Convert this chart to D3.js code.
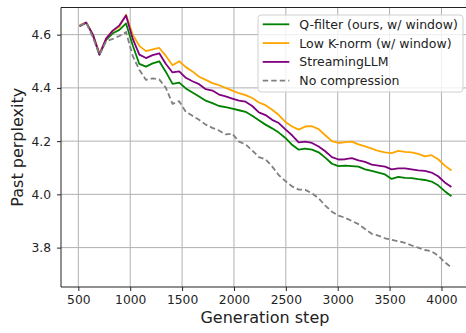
<!DOCTYPE html>
<html>
<head>
<meta charset="utf-8">
<script src="https://cdn.jsdelivr.net/npm/d3@7"></script>
<style>
  body { margin: 0; background: #fff; }
  text { font-family: "DejaVu Sans", sans-serif; fill: #222; }
</style>
</head>
<body>
<div id="chart"></div>
<script>
// generation steps (every 64 tokens)
var steps = [512,576,640,704,768,832,896,960,1024,1088,1152,1216,1280,1344,1408,1472,1536,1600,1664,1728,
  1792,1856,1920,1984,2048,2112,2176,2240,2304,2368,2432,2496,2560,2624,2688,2752,2816,2880,2944,3008,
  3072,3136,3200,3264,3328,3392,3456,3520,3584,3648,3712,3776,3840,3904,3968,4032,4096];

var qfilter = [4.632,4.645,4.600,4.525,4.580,4.605,4.618,4.642,4.560,4.490,4.480,4.492,4.500,4.460,4.415,4.420,4.398,4.383,4.368,4.352,
  4.343,4.332,4.328,4.322,4.316,4.310,4.295,4.278,4.262,4.248,4.232,4.212,4.186,4.168,4.172,4.168,4.158,4.138,4.115,4.106,
  4.108,4.106,4.104,4.094,4.088,4.082,4.075,4.058,4.066,4.062,4.061,4.057,4.054,4.048,4.034,4.012,3.993];

var knorm = [4.636,4.645,4.600,4.530,4.585,4.615,4.630,4.675,4.600,4.558,4.538,4.545,4.550,4.520,4.485,4.500,4.478,4.462,4.442,4.430,
  4.418,4.410,4.400,4.390,4.380,4.373,4.362,4.345,4.335,4.318,4.298,4.272,4.255,4.243,4.255,4.256,4.245,4.222,4.200,4.193,
  4.196,4.198,4.188,4.180,4.172,4.163,4.158,4.155,4.163,4.160,4.158,4.152,4.143,4.147,4.132,4.108,4.090];

var streaming = [4.632,4.645,4.600,4.525,4.585,4.615,4.635,4.672,4.585,4.525,4.512,4.523,4.530,4.490,4.458,4.462,4.438,4.425,4.414,4.395,
  4.390,4.375,4.368,4.360,4.352,4.348,4.332,4.308,4.298,4.280,4.268,4.244,4.222,4.195,4.198,4.193,4.180,4.162,4.140,4.131,
  4.132,4.136,4.128,4.122,4.112,4.108,4.104,4.094,4.098,4.098,4.094,4.090,4.088,4.082,4.068,4.045,4.028];

var nocomp = [4.633,4.645,4.590,4.525,4.575,4.584,4.595,4.610,4.520,4.468,4.430,4.436,4.432,4.400,4.340,4.350,4.310,4.295,4.280,4.262,
  4.250,4.240,4.225,4.228,4.198,4.188,4.165,4.140,4.132,4.105,4.072,4.050,4.030,4.018,4.017,4.004,3.985,3.958,3.935,3.920,
  3.912,3.900,3.888,3.870,3.852,3.845,3.835,3.829,3.824,3.818,3.808,3.800,3.791,3.786,3.770,3.745,3.725];

var seriesNames = ["Q-filter (ours, w/ window)", "Low K-norm (w/ window)", "StreamingLLM", "No compression"];
var seriesColors = ["green", "orange", "purple", "gray"];
var seriesData = [qfilter, knorm, streaming, nocomp];

var xTicks = [500,1000,1500,2000,2500,3000,3500,4000];
var yTicks = [3.8,4.0,4.2,4.4,4.6];

var W = 466, H = 333;
var plot = {left: 61, top: 7.5, right: 470, bottom: 287};

var svg = d3.select("#chart")
    .append("svg")
    .attr("width", W)
    .attr("height", H);

var x = d3.scaleLinear()
    .domain([333, 4275])
    .range([plot.left, plot.right]);

var y = d3.scaleLinear()
    .domain([3.652, 4.702])
    .range([plot.bottom, plot.top]);

// grid lines
svg.append("g")
    .selectAll("line.vgrid")
    .data(xTicks)
    .enter()
    .append("line")
    .attr("x1", function(d){ return x(d) })
    .attr("x2", function(d){ return x(d) })
    .attr("y1", plot.top)
    .attr("y2", plot.bottom)
    .style("stroke", "#b0b0b0")
    .style("stroke-width", 1);

svg.append("g")
    .selectAll("line.hgrid")
    .data(yTicks)
    .enter()
    .append("line")
    .attr("x1", plot.left)
    .attr("x2", plot.right)
    .attr("y1", function(d){ return y(d) })
    .attr("y2", function(d){ return y(d) })
    .style("stroke", "#b0b0b0")
    .style("stroke-width", 1);

// axes
var xAxis = svg.append("g")
    .attr("transform", "translate(0," + plot.bottom + ")")
    .call(d3.axisBottom(x).tickValues(xTicks).tickSize(4).tickPadding(4).tickFormat(d3.format("d")));

var yAxis = svg.append("g")
    .attr("transform", "translate(" + plot.left + ",0)")
    .call(d3.axisLeft(y).tickValues(yTicks).tickSize(4).tickPadding(6).tickFormat(d3.format(".1f")));

[xAxis, yAxis].forEach(function(a){
    a.select(".domain").remove();
    a.selectAll(".tick line").style("stroke", "#222").style("stroke-width", 1);
    a.selectAll(".tick text").style("font-size", "12.3px").style("fill", "#222").style("font-family", "DejaVu Sans");
});

// spines (right one falls outside the picture)
svg.append("line").attr("x1", plot.left).attr("x2", plot.left).attr("y1", plot.top).attr("y2", plot.bottom)
    .style("stroke", "#222").style("stroke-width", 1);
svg.append("line").attr("x1", plot.left).attr("x2", plot.right).attr("y1", plot.bottom).attr("y2", plot.bottom)
    .style("stroke", "#222").style("stroke-width", 1);
svg.append("line").attr("x1", plot.left).attr("x2", plot.right).attr("y1", plot.top).attr("y2", plot.top)
    .style("stroke", "#222").style("stroke-width", 1);

// the lines
var line = d3.line()
    .x(function(d, i){ return x(steps[i]) })
    .y(function(d){ return y(d) });

for (s = 0; s < seriesData.length; s++){
    svg.append("path")
        .datum(seriesData[s])
        .attr("d", line)
        .style("fill", "none")
        .style("stroke", seriesColors[s])
        .style("stroke-width", 1.8)
        .style("stroke-linejoin", "round")
        .style("stroke-dasharray", s == 3 ? "5.5,3" : null);
}

// axis labels
svg.append("text")
    .attr("x", (plot.left + 441.5 + 78.3 - plot.left) / 2 + 5)
    .attr("y", 323)
    .attr("text-anchor", "middle")
    .style("font-size", "16px")
    .text("Generation step");

svg.append("text")
    .attr("transform", "translate(23," + ((plot.top + plot.bottom) / 2) + ") rotate(-90)")
    .attr("text-anchor", "middle")
    .style("font-size", "16px")
    .text("Past perplexity");

// legend
var legend = svg.append("g").attr("transform", "translate(258,15)");
legend.append("rect")
    .attr("width", 205)
    .attr("height", 77)
    .attr("rx", 3)
    .style("fill", "white")
    .style("fill-opacity", 0.8)
    .style("stroke", "#d0d0d0")
    .style("stroke-width", 1);

for (s = 0; s < seriesNames.length; s++){
    var ly = 9.3 + s * 18.8;
    legend.append("line")
        .attr("x1", 4.7).attr("x2", 31.3)
        .attr("y1", ly).attr("y2", ly)
        .style("stroke", seriesColors[s])
        .style("stroke-width", 1.8)
        .style("stroke-dasharray", s == 3 ? "5.5,3" : null);
    legend.append("text")
        .attr("x", 41.3)
        .attr("y", ly + 4.5)
        .style("font-size", "12.5px")
        .text(seriesNames[s]);
}
</script>
</body>
</html>
